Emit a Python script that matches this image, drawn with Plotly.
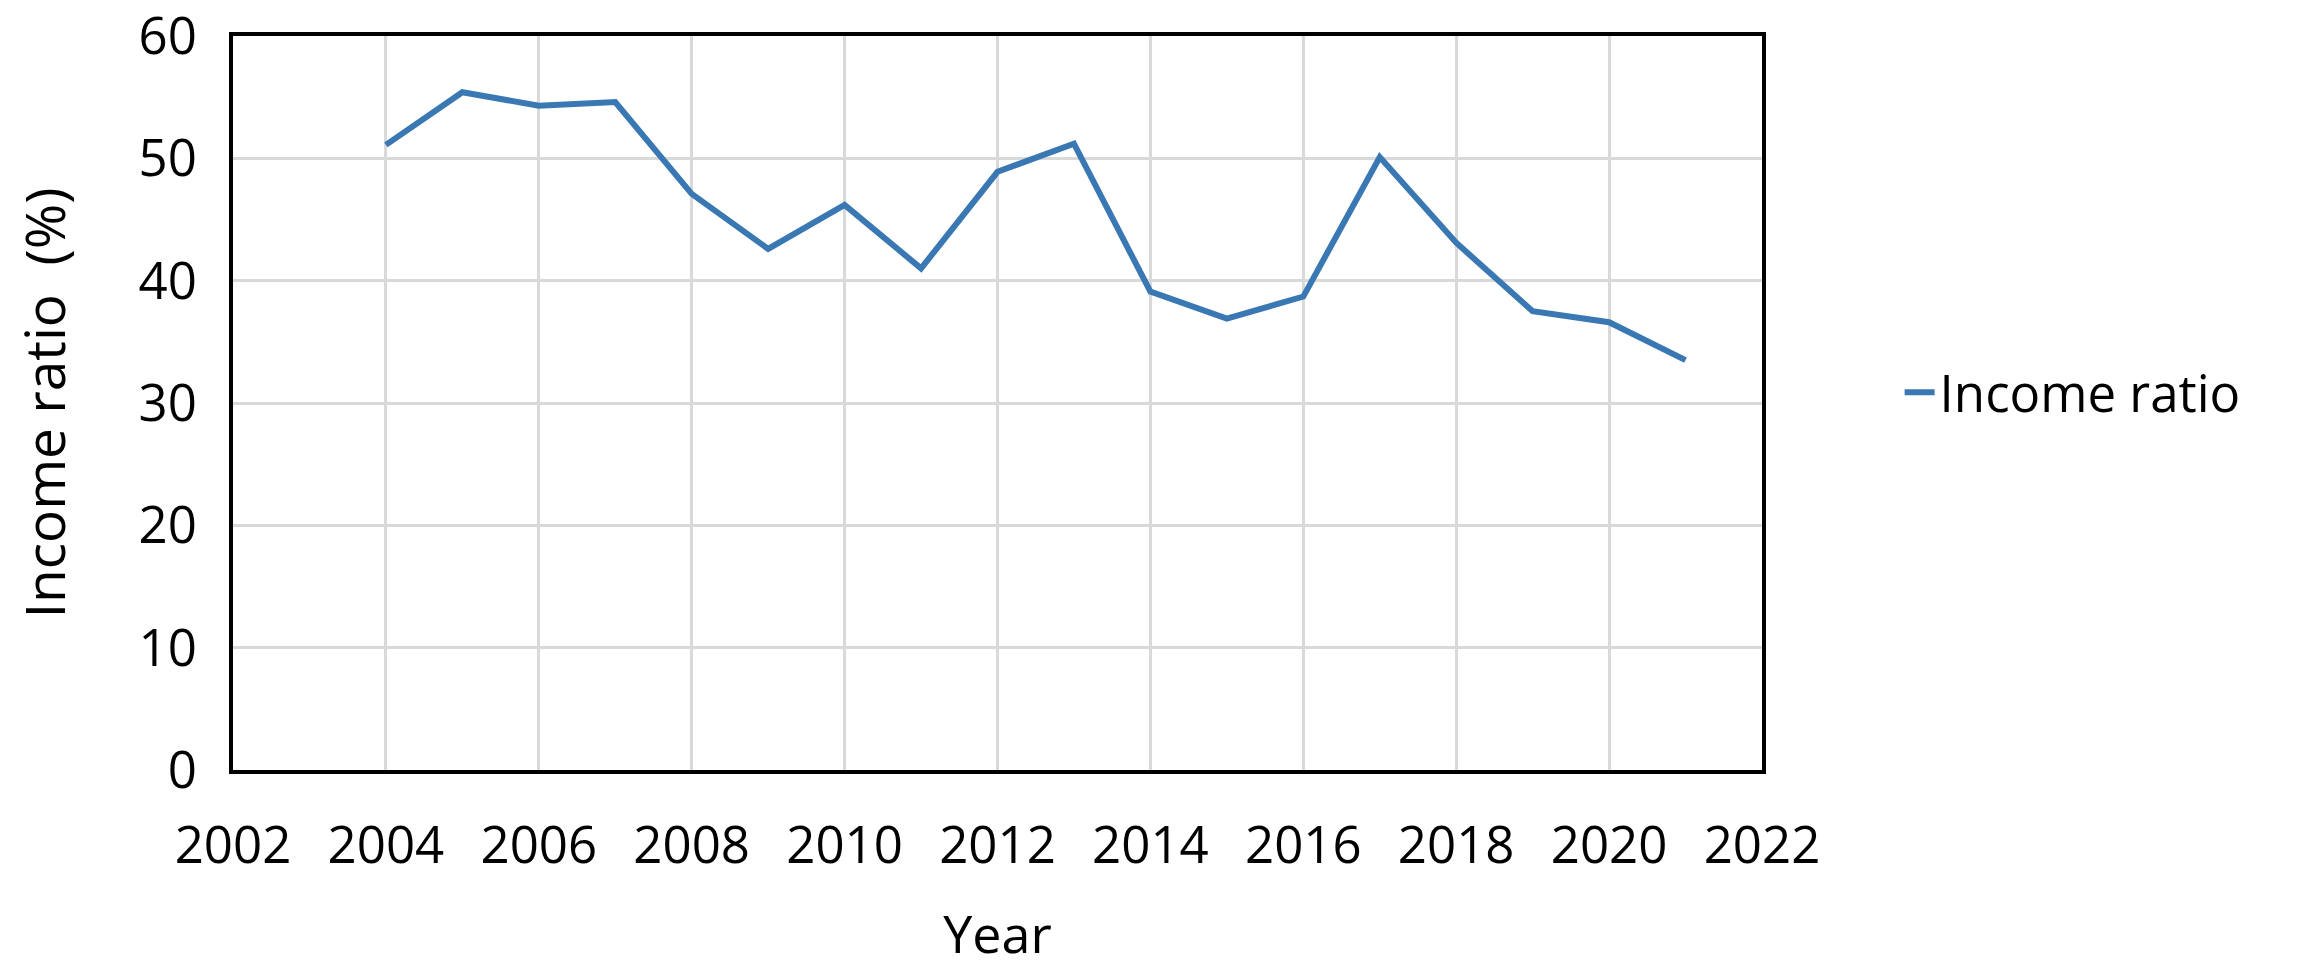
import plotly.graph_objects as go

years = [2004, 2005, 2006, 2007, 2008, 2009, 2010, 2011, 2012,
         2013, 2014, 2015, 2016, 2017, 2018, 2019, 2020, 2021]
income_ratio = [51.1, 55.4, 54.3, 54.6, 47.1, 42.6, 46.2, 41.0, 48.9,
                51.2, 39.1, 36.9, 38.7, 50.1, 43.1, 37.5, 36.6, 33.5]
x_ticks = [2002, 2004, 2006, 2008, 2010, 2012, 2014, 2016, 2018, 2020, 2022]
y_ticks = [0, 10, 20, 30, 40, 50, 60]
series_name = "Income ratio"
x_title = "Year"
y_title = "Income ratio  (%)"

FONT = "Open Sans, Liberation Sans, sans-serif"

fig = go.Figure()
fig.add_trace(go.Scatter(
    x=years, y=income_ratio, mode="lines", name=series_name,
    line=dict(color="#3a78b4", width=6),
))

fig.update_layout(
    width=2302, height=978,
    margin=dict(l=233, r=540, t=36, b=208, autoexpand=False),
    paper_bgcolor="white", plot_bgcolor="white",
    font=dict(family=FONT, size=51, color="black"),
    showlegend=True,
    legend=dict(x=1.09, xanchor="left", y=0.514, yanchor="middle",
                font=dict(family=FONT, size=51, color="black"),
                bgcolor="rgba(0,0,0,0)"),
)
fig.update_xaxes(
    range=[2002, 2022], tickmode="array", tickvals=x_ticks,
    ticktext=[str(t) for t in x_ticks],
    showgrid=True, gridcolor="#d9d9d9", gridwidth=3,
    showline=True, linecolor="black", linewidth=4, mirror=True,
    ticks="", ticklabelstandoff=28, automargin=False,
    ticklabeloverflow="allow",
    title=dict(text=x_title, font=dict(family=FONT, size=52), standoff=40),
    zeroline=False,
)
fig.update_yaxes(
    range=[0, 60], tickmode="array", tickvals=y_ticks,
    ticktext=[str(t) for t in y_ticks],
    showgrid=True, gridcolor="#d9d9d9", gridwidth=3,
    showline=True, linecolor="black", linewidth=4, mirror=True,
    ticks="", ticklabelstandoff=22, automargin=False,
    ticklabeloverflow="allow",
    title=dict(text=y_title, font=dict(family=FONT, size=55), standoff=56),
    zeroline=False,
)

fig.write_html("out.html",
               config={"displayModeBar": False},
               post_script="document.body.style.margin='0';document.body.style.overflow='hidden';")
